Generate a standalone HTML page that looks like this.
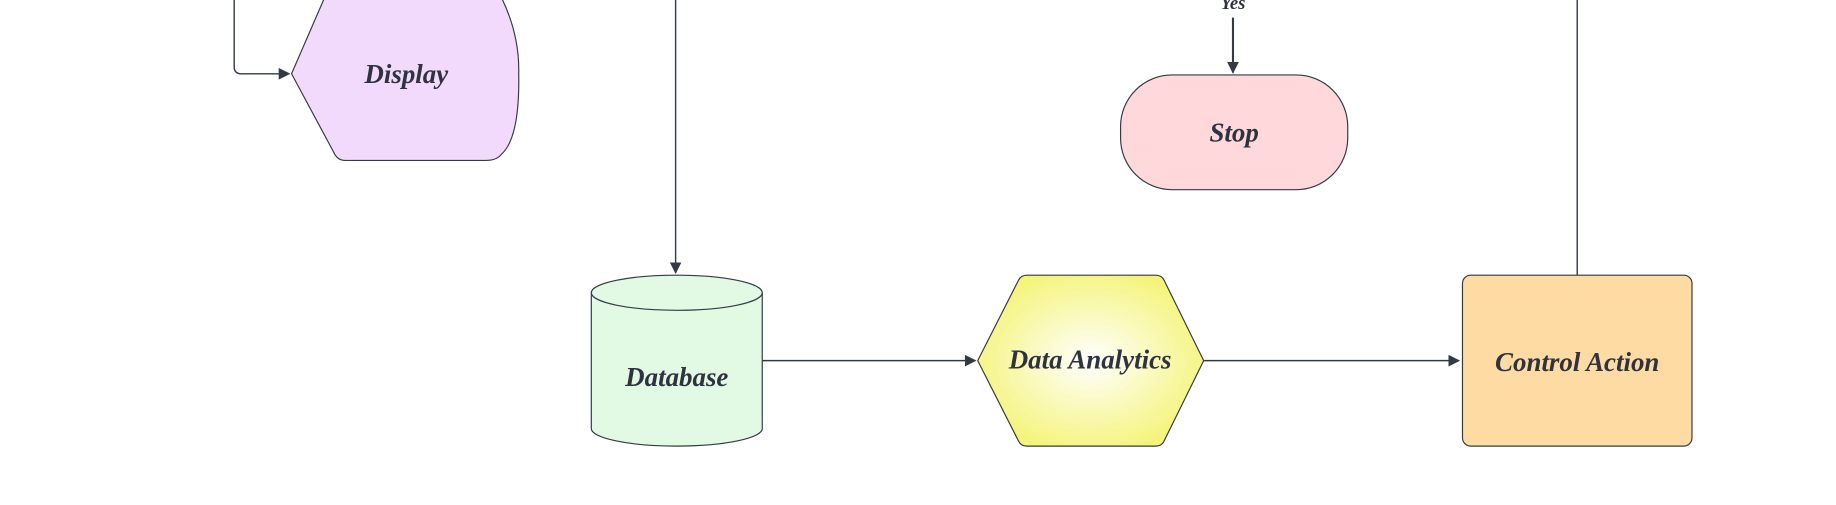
<!DOCTYPE html>
<html><head><meta charset="utf-8"><style>
html,body{margin:0;padding:0;background:#fff;overflow:hidden}
svg{display:block}
text{font-family:"Liberation Serif",serif;font-style:italic;font-weight:bold;fill:#2f3340;text-anchor:middle;dominant-baseline:central}
</style></head><body>
<svg width="1836" height="505" viewBox="0 0 1568 431.3" preserveAspectRatio="none">
<defs>
<radialGradient id="yg" cx="50%" cy="50%" r="55%">
<stop offset="0" stop-color="#ffffff"/><stop offset="1" stop-color="#f4f47a"/>
</radialGradient>
<marker id="ar" markerWidth="10" markerHeight="10" refX="9" refY="5" orient="auto" markerUnits="userSpaceOnUse">
<path d="M0,0 L10,5 L0,10 Z" fill="#333a44"/>
</marker>
</defs>
<g fill="none" stroke="#333a44" stroke-width="1.2">
<path d="M200,-5 L200,57 Q200,63 206,63 L247,63" marker-end="url(#ar)"/>
<path d="M577,-5 L577,233" marker-end="url(#ar)"/>
<path d="M651,308 L833,308" marker-end="url(#ar)"/>
<path d="M1028,308 L1246,308" marker-end="url(#ar)"/>
<path d="M1347,235 L1347,-5"/>
<path d="M1053,15 L1053,62" stroke-width="1.8" marker-end="url(#ar)"/>
</g>
<path d="M249,63 L285,-20 L418,-20 Q444,20 443,63 Q444,118 428,132 Q424,137 415,137 L295,137 Q288,137 285,130 Z" fill="#f2dafd" stroke="#333a44" stroke-width="1"/>
<text x="347" y="63" font-size="23">Display</text>
<path d="M505,250 A73,15 0 0 1 651,250 L651,366 A73,15 0 0 1 505,366 Z" fill="#e2f9e4" stroke="#333a44" stroke-width="1"/>
<path d="M505,250 A73,15 0 0 0 651,250" fill="none" stroke="#333a44" stroke-width="1"/>
<text x="578" y="322" font-size="23">Database</text>
<path d="M835,308 L870,239 Q872,235 877,235 L987,235 Q992,235 994,239 L1028,308 L994,377 Q992,381 987,381 L877,381 Q872,381 870,377 Z" fill="url(#yg)" stroke="#333a44" stroke-width="1"/>
<text x="931" y="307" font-size="23">Data Analytics</text>
<rect x="1249" y="235" width="196" height="146" rx="7" fill="#fddba3" stroke="#333a44" stroke-width="1"/>
<text x="1347" y="309" font-size="23">Control Action</text>
<rect x="957" y="64" width="194" height="98" rx="44" fill="#fed8da" stroke="#333a44" stroke-width="1"/>
<text x="1054" y="113" font-size="23">Stop</text>
<text x="1053" y="3" font-size="16">Yes</text>
</svg>
</body></html>
